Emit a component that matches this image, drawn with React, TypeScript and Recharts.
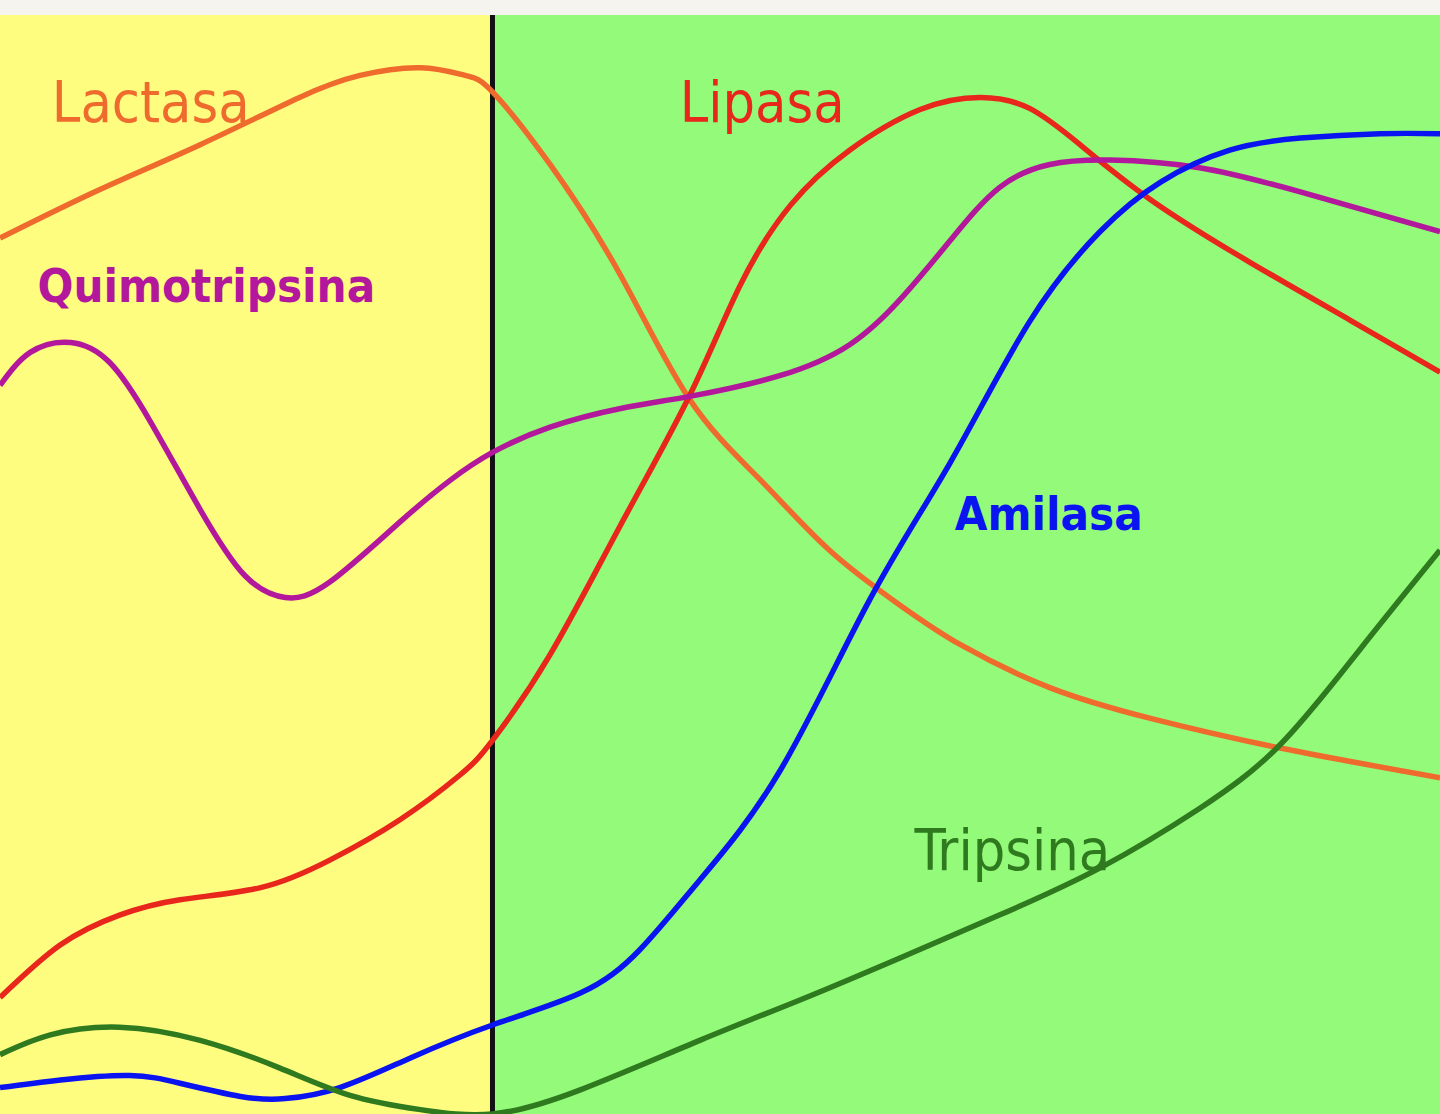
import {
  LineChart,
  Line,
  XAxis,
  YAxis,
  ReferenceArea,
  ReferenceLine,
  ReferenceDot,
} from 'recharts'

// time axis (0-100) and activity (0-100)
const lactasa = [
  [0, 79.7], [6.9, 84.1], [13.9, 88.2], [20.8, 92.5], [25, 94.5], [29.2, 95.2],
  [32.3, 94.5], [34.2, 93.0], [38.2, 86.4], [43.1, 76.3], [47.9, 65.0],
  [52.8, 57.7], [57.6, 51.3], [62.5, 46.3], [66.7, 42.7], [72.9, 38.8],
  [79.9, 36.0], [88.9, 33.3], [100, 30.6],
]
const lipasa = [
  [0, 10.6], [4.2, 15.4], [8.3, 18.1], [12.5, 19.5], [18.1, 20.6], [22.9, 23.1],
  [27.8, 26.8], [31.9, 30.8], [34.2, 34.0], [38.2, 41.8], [43.1, 53.6],
  [47.9, 65.4], [51.4, 75.4], [54.9, 82.7], [59.0, 87.7], [63.9, 91.4],
  [68.1, 92.5], [71.5, 91.5], [75.0, 88.2], [79.9, 83.2], [86.8, 77.5],
  [93.8, 72.2], [100, 67.5],
]
const quimotripsina = [
  [0, 66.3], [2.1, 69.3], [4.9, 70.2], [7.6, 68.4], [10.4, 63.1], [13.9, 55.0],
  [17.0, 49.0], [19.8, 47.0], [22.9, 48.4], [27.8, 53.9], [31.3, 57.7],
  [34.2, 60.2], [38.2, 62.5], [43.1, 64.2], [47.9, 65.3], [54.2, 67.2],
  [59.0, 70.0], [62.5, 74.1], [66.0, 79.5], [69.4, 84.3], [72.9, 86.4],
  [77.1, 86.8], [83.3, 86.1], [90.3, 83.9], [100, 80.3],
]
const amilasa = [
  [0, 2.4], [4.2, 3.1], [9.0, 3.5], [12.5, 2.8], [16.7, 1.6], [19.8, 1.4],
  [23.6, 2.4], [28.5, 5.1], [34.2, 8.1], [40.3, 11.0], [44.4, 14.9],
  [48.6, 21.3], [54.2, 31.3], [60.4, 46.8], [66.0, 59.3], [71.5, 72.1],
  [76.4, 80.3], [80.6, 84.8], [85.4, 87.7], [90.3, 88.8], [95.8, 89.2],
  [100, 89.2],
]
const tripsina = [
  [0, 5.4], [3.5, 7.2], [8.3, 7.9], [13.9, 6.7], [19.4, 4.2], [24.3, 1.7],
  [29.2, 0.4], [34.2, 0], [40.3, 2.2], [48.6, 6.7], [55.6, 10.4], [62.5, 14.2],
  [69.4, 18.1], [76.4, 22.4], [83.3, 27.8], [88.9, 33.6], [94.4, 42.2],
  [100, 51.3],
]

const pancreasStart = 34.2

const toRows = (pts: number[][]) => pts.map(([t, v]) => ({ t, v }))

const series = [
  { name: 'Lactasa', data: lactasa, color: '#EE6B2D' },
  { name: 'Lipasa', data: lipasa, color: '#E8261C' },
  { name: 'Quimotripsina', data: quimotripsina, color: '#B3179C' },
  { name: 'Amilasa', data: amilasa, color: '#0A14F0' },
  { name: 'Tripsina', data: tripsina, color: '#2F7A1F' },
]

const labels = [
  { text: 'Lactasa', t: 3.6, v: 90.3, color: '#EE6B2D', bold: false },
  { text: 'Lipasa', t: 47.2, v: 90.3, color: '#E8261C', bold: false },
  { text: 'Quimotripsina', t: 2.6, v: 73.9, color: '#B3179C', bold: true },
  { text: 'Amilasa', t: 66.3, v: 53.1, color: '#0A14F0', bold: true },
  { text: 'Tripsina', t: 63.5, v: 22.2, color: '#2F7A1F', bold: false },
]

const makeLabel = (text: string, color: string, bold: boolean) => (props: any) => {
  const { viewBox } = props
  return (
    <text
      x={viewBox.x}
      y={viewBox.y}
      fill={color}
      fontFamily="'DejaVu Sans Condensed', 'DejaVu Sans', sans-serif"
      fontWeight={bold ? 'bold' : 'normal'}
      fontSize={bold ? 47 : 57}
    >
      {text}
    </text>
  )
}

const App = () => {
  return (
    <div style={{ width: 1440, height: 1114, background: '#F6F4EF' }}>
      <style>{'body{margin:0}'}</style>
      <div style={{ height: 15 }} />
      <LineChart width={1440} height={1099} margin={{ top: 0, right: 0, left: 0, bottom: 0 }}>
        <XAxis type="number" dataKey="t" domain={[0, 100]} hide allowDataOverflow />
        <YAxis type="number" dataKey="v" domain={[0, 100]} hide allowDataOverflow />
        <ReferenceArea x1={0} x2={pancreasStart} y1={0} y2={100} fill="#FFFD80" fillOpacity={1} />
        <ReferenceArea x1={pancreasStart} x2={100} y1={0} y2={100} fill="#94FB7A" fillOpacity={1} />
        <ReferenceLine x={pancreasStart} stroke="#111" strokeWidth={5} />
        {series.map((s) => (
          <Line
            key={s.name}
            data={toRows(s.data)}
            dataKey="v"
            type="natural"
            stroke={s.color}
            strokeWidth={5.5}
            dot={false}
            activeDot={false}
            isAnimationActive={false}
          />
        ))}
        {labels.map((l) => (
          <ReferenceDot
            key={l.text}
            x={l.t}
            y={l.v}
            r={0}
            fill="none"
            stroke="none"
            label={makeLabel(l.text, l.color, l.bold)}
          />
        ))}
      </LineChart>
    </div>
  )
}

export default App
